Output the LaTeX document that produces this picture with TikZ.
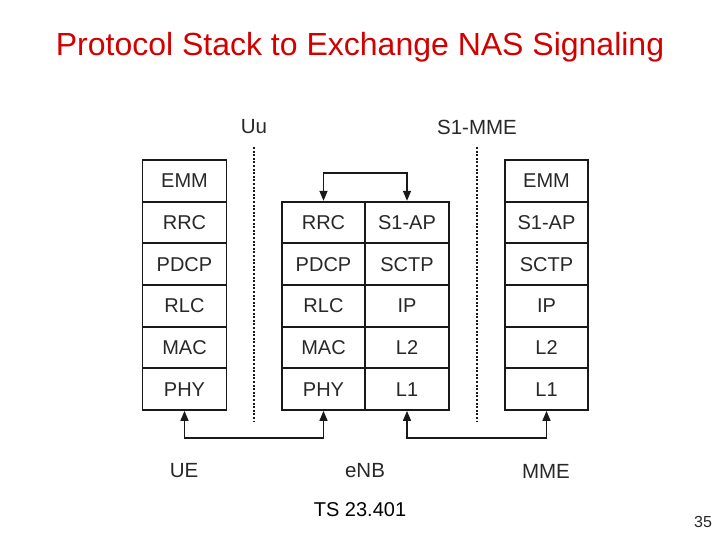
\documentclass[tikz,border=0pt]{standalone}
\usepackage{fontspec}
\setmainfont{Liberation Sans}
\usetikzlibrary{arrows.meta}
\definecolor{titlered}{RGB}{210,0,0}
\definecolor{txtgray}{RGB}{40,40,40}
\begin{document}
\begin{tikzpicture}[x=1pt,y=-1pt,
  cell/.style={draw=black!90, line width=1.7pt, minimum width=84pt, minimum height=41.67pt, inner sep=0pt, font=\fontsize{20}{20}\selectfont, text=txtgray},
  lbl/.style={font=\fontsize{20.5}{20.5}\selectfont, text=txtgray},
  conn/.style={line width=1.4pt, draw=black!90, {Triangle[width=8pt,length=10pt]}-{Triangle[width=8pt,length=10pt]}},
  dotline/.style={line width=2pt, draw=black!90, dash pattern=on 2pt off 1.6pt}]
\useasboundingbox (0,0) rectangle (720,540);
\fill[white] (0,0) rectangle (720,540);
% title
\node[font=\fontsize{32}{32}\selectfont, text=titlered] (title) at (360,47) {Protocol Stack to Exchange NAS Signaling};
% UE stack
\node[cell] (ueEMM)  at (184.5,180.8) {EMM};
\node[cell] (ueRRC)  at (184.5,222.5) {RRC};
\node[cell] (uePDCP) at (184.5,264.2) {PDCP};
\node[cell] (ueRLC)  at (184.5,305.8) {RLC};
\node[cell] (ueMAC)  at (184.5,347.5) {MAC};
\node[cell] (uePHY)  at (184.5,389.2) {PHY};
% eNB stack left
\node[cell, minimum width=83pt] (eRRC)  at (323.5,222.5) {RRC};
\node[cell, minimum width=83pt] (ePDCP) at (323.5,264.2) {PDCP};
\node[cell, minimum width=83pt] (eRLC)  at (323.5,305.8) {RLC};
\node[cell, minimum width=83pt] (eMAC)  at (323.5,347.5) {MAC};
\node[cell, minimum width=83pt] (ePHY)  at (323.5,389.2) {PHY};
% eNB stack right
\node[cell] (eSAP)  at (407,222.5) {S1-AP};
\node[cell] (eSCTP) at (407,264.2) {SCTP};
\node[cell] (eIP)   at (407,305.8) {IP};
\node[cell] (eL2)   at (407,347.5) {L2};
\node[cell] (eL1)   at (407,389.2) {L1};
% MME stack
\node[cell, minimum width=83pt] (mEMM)  at (546.5,180.8) {EMM};
\node[cell, minimum width=83pt] (mSAP)  at (546.5,222.5) {S1-AP};
\node[cell, minimum width=83pt] (mSCTP) at (546.5,264.2) {SCTP};
\node[cell, minimum width=83pt] (mIP)   at (546.5,305.8) {IP};
\node[cell, minimum width=83pt] (mL2)   at (546.5,347.5) {L2};
\node[cell, minimum width=83pt] (mL1)   at (546.5,389.2) {L1};
% interface labels and dotted lines
\node[lbl] (uu) at (254,127) {Uu};
\node[lbl] (s1mme) at (477,127) {S1-MME};
\coordinate (uuTop) at (254,147);
\coordinate (uuBot) at (254,422);
\coordinate (s1Top) at (477,147);
\coordinate (s1Bot) at (477,422);
\draw[dotline] (uuTop) -- (uuBot);
\draw[dotline] (s1Top) -- (s1Bot);
% connectors
\draw[conn] (eRRC.north) -- ++(0,-28) -| (eSAP.north);
\draw[conn] (uePHY.south) -- ++(0,27) -| (ePHY.south);
\draw[conn] (eL1.south) -- ++(0,27) -| (mL1.south);
% node labels
\node[lbl] (ue) at (184,471) {UE};
\node[lbl] (enb) at (365,471) {eNB};
\node[lbl] (mme) at (546,471) {MME};
\node[font=\fontsize{20}{20}\selectfont] (ts) at (360,510) {TS 23.401};
\node[font=\fontsize{16}{16}\selectfont, text=txtgray] (pg) at (703,522) {35};
\end{tikzpicture}
\end{document}
